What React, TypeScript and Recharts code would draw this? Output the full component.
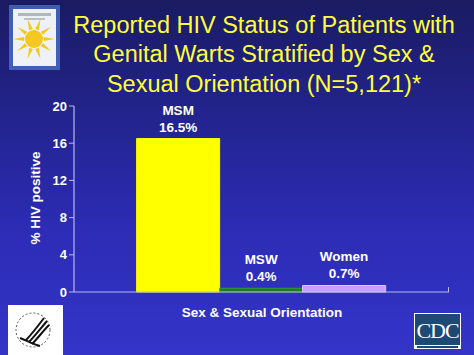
import React from 'react';
import { BarChart, Bar, XAxis, YAxis, LabelList } from 'recharts';

const categories = ['MSM', 'MSW', 'Women'];
const seriesKeys = ['msm', 'msw', 'women'];
const values = [16.5, 0.4, 0.7];
const valueLabels = ['16.5%', '0.4%', '0.7%'];
const yTicks = [0, 4, 8, 12, 16, 20];
const colors = ['#ffff00', '#1f7a2a', '#c8a0f8'];
const strokes = ['#ffff00', '#2e9a3a', '#e0c8ff'];

const titleLines = [
  'Reported HIV Status of Patients with',
  'Genital Warts Stratified by Sex &',
  'Sexual Orientation (N=5,121)*',
];

const row: Record<string, number | string> = { name: 'all' };
seriesKeys.forEach((k, i) => {
  row[k] = values[i];
});
const data = [row];

const FONT = '"Liberation Sans", Arial, sans-serif';

const makeLabel = (idx: number) => (props: any) => {
  const { x, y, width } = props;
  const cx = Number(x) + Number(width) / 2;
  const top = Number(y);
  return (
    <g>
      <text x={cx} y={top - 24} textAnchor="middle" fill="#ffffff" fontWeight="bold" fontSize={13.5} fontFamily={FONT}>
        {categories[idx]}
      </text>
      <text x={cx} y={top - 7} textAnchor="middle" fill="#ffffff" fontWeight="bold" fontSize={13.5} fontFamily={FONT}>
        {valueLabels[idx]}
      </text>
    </g>
  );
};

export default function App() {
  return (
    <div
      style={{
        position: 'fixed',
        left: 0,
        top: 0,
        width: 474,
        height: 355,
        overflow: 'hidden',
        background: 'linear-gradient(to bottom, #1a1b62 0%, #22238a 30%, #2c2cb6 65%, #3434c8 100%)',
        fontFamily: FONT,
      }}
    >
      <svg width={474} height={355} style={{ position: 'absolute', left: 0, top: 0 }}>
        {titleLines.map((t, i) => (
          <text key={i} x={264} y={32.5 + i * 29.5} textAnchor="middle" fill="#ffff3c" fontSize={23.5} fontFamily={FONT}>
            {t}
          </text>
        ))}
        {/* sun logo */}
        <rect x={9} y={5} width={51} height={65} fill="#5a8ae0" opacity={0.6} />
        <rect x={13} y={9} width={43} height={57} fill="#eef2f6" />
        <rect x={18} y={13} width={33} height={3} fill="#8890a0" opacity={0.6} />
        <rect x={24} y={18} width={21} height={2} fill="#8890a0" opacity={0.5} />
        {Array.from({ length: 10 }).map((_, i) => {
          const a = (i * Math.PI * 2) / 10;
          const cx = 34, cy = 39;
          const x1 = cx + Math.cos(a - 0.2) * 10;
          const y1 = cy + Math.sin(a - 0.2) * 10;
          const x2 = cx + Math.cos(a + 0.2) * 10;
          const y2 = cy + Math.sin(a + 0.2) * 10;
          const x3 = cx + Math.cos(a) * 21;
          const y3 = cy + Math.sin(a) * 21;
          return <polygon key={i} points={`${x1},${y1} ${x2},${y2} ${x3},${y3}`} fill="#f4c820" />;
        })}
        <circle cx={34} cy={39} r={9} fill="#f4c820" />
        {/* HHS logo */}
        <rect x={8} y={305} width={55} height={52} fill="#ffffff" />
        <circle cx={33} cy={330} r={17} fill="none" stroke="#555" strokeWidth={1} strokeDasharray="2 2" />
        <path d="M26 340 C32 334 38 326 44 318 M29 342 C35 336 41 328 47 321 M32 344 C38 338 43 331 49 325" stroke="#111" strokeWidth={2} fill="none" />
        <path d="M20 338 C26 340 32 344 40 346" stroke="#111" strokeWidth={2} fill="none" />
        {/* CDC logo */}
        <rect x={414} y={313} width={47} height={36} fill="#ffffff" />
        <rect x={415} y={314} width={45} height={31} fill="#1c4a74" />
        <text x={437.5} y={338} textAnchor="middle" fill="#ffffff" fontSize={22} fontFamily='"Liberation Serif", serif' letterSpacing={-1}>
          CDC
        </text>
        <rect x={417} y={346} width={41} height={2} fill="#1c4a74" />
        {/* axis titles */}
        <text x={262} y={317} textAnchor="middle" fill="#ffffff" fontWeight="bold" fontSize={13.5} fontFamily={FONT}>
          Sex &amp; Sexual Orientation
        </text>
        <text
          x={40}
          y={198}
          transform="rotate(-90 40 198)"
          textAnchor="middle"
          fill="#ffffff"
          fontWeight="bold"
          fontSize={13.5}
          fontFamily={FONT}
        >
          % HIV positive
        </text>
        {/* right end tick on category axis */}
        <line x1={448.5} y1={292} x2={448.5} y2={287} stroke="#b8b8f0" strokeWidth={1} />
      </svg>
      <div style={{ position: 'absolute', left: 0, top: 0 }}>
        <BarChart
          width={474}
          height={355}
          data={data}
          margin={{ top: 106, right: 25, bottom: 43, left: 14 }}
          barGap={0}
          barCategoryGap="16.7%"
        >
          <XAxis
            dataKey="name"
            tick={false}
            tickLine={false}
            height={20}
            axisLine={{ stroke: '#b8b8f0', strokeWidth: 1.2 }}
          />
          <YAxis
            width={60}
            domain={[0, 20]}
            ticks={yTicks}
            interval={0}
            tickSize={5}
            tickLine={{ stroke: '#b8b8f0' }}
            axisLine={{ stroke: '#b8b8f0', strokeWidth: 1.2 }}
            tick={{ fill: '#ffffff', fontSize: 13, fontWeight: 'bold', fontFamily: FONT }}
          />
          {seriesKeys.map((k, i) => (
            <Bar key={k} dataKey={k} fill={colors[i]} stroke={strokes[i]} strokeWidth={1} isAnimationActive={false}>
              <LabelList dataKey={k} content={makeLabel(i)} />
            </Bar>
          ))}
        </BarChart>
      </div>
    </div>
  );
}
